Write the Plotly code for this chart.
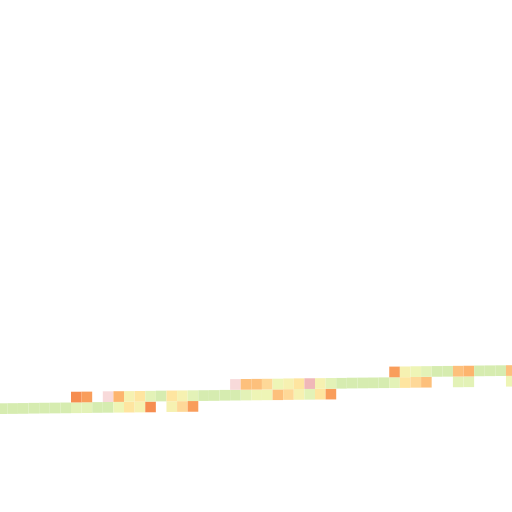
"""Drifting band of coloured cells, drawn as floating bars."""
import plotly.graph_objects as go

N = None

# column index along the band
columns = list(range(49))

# slow upward drift of each column's bottom edge (in row units)
baseline = [0.00, 0.01, 0.02, 0.04, 0.05, 0.06, 0.07, 0.08, 0.09, 0.11,
            0.12, 0.13, 0.14, 0.15, 0.16, 0.18, 0.19, 0.20, 0.21, 0.22,
            0.23, 0.25, 0.26, 0.27, 0.28, 0.29, 0.30, 0.32, 0.33, 0.34,
            0.35, 0.36, 0.37, 0.39, 0.40, 0.41, 0.42, 0.43, 0.44, 0.46,
            0.47, 0.48, 0.49, 0.50, 0.51, 0.53, 0.54, 0.55, 0.56]

# cell levels per row (None = no cell)
row0 = [9, 9, 9, 9, 9, 9, 9, 8, 8, 9, 9, 7, 5, 6, 0, N, 6, 4, 1, N,
        N, N, N, N, N, N, N, N, N, N, N, N, N, N, N, N, N, N, N, N,
        N, N, N, N, N, N, N, N, N]
row1 = [N, N, N, N, N, N, N, 0, 1, N, 10, 2, 6, 5, 8, 9, 5, 6, 8, 9,
        9, 9, 9, 8, 7, 7, 3, 4, 6, 8, 5, 1, N, N, N, N, N, N, N, N,
        N, N, N, N, N, N, N, N, N]
row2 = [N, N, N, N, N, N, N, N, N, N, N, N, N, N, N, N, N, N, N, N,
        N, N, 10, 3, 3, 4, 7, 6, 5, 11, 6, 8, 9, 9, 9, 9, 9, 8, 5, 4,
        3, N, N, 8, 8, N, N, N, 7]
row3 = [N, N, N, N, N, N, N, N, N, N, N, N, N, N, N, N, N, N, N, N,
        N, N, N, N, N, N, N, N, N, N, N, N, N, N, N, N, N, 1, 6, 7,
        8, 9, 9, 3, 2, 9, 9, 9, 3]
rows = [row0, row1, row2, row3]

palette = ["#f68d50", "#f99d5b", "#fdb46e", "#fdc07c", "#fed898", "#fee5a0",
           "#f6f1b1", "#eef5b6", "#e3f2b7", "#d6ecb0", "#f8dada", "#f0b8b8"]


fig = go.Figure()
for r, levels in enumerate(rows):
    fig.add_trace(go.Bar(
        x=columns,
        y=[1 if v is not None else None for v in levels],
        base=[b + r for b in baseline],
        width=1,
        marker=dict(color=[palette[v] if v is not None else "white" for v in levels],
                    line=dict(width=0)),
        hoverinfo="skip",
    ))

fig.update_layout(
    width=512, height=512,
    margin=dict(l=0, r=0, t=0, b=0),
    barmode="overlay",
    showlegend=False,
    paper_bgcolor="white",
    plot_bgcolor="white",
    xaxis=dict(range=[-0.19, 48.07], visible=False),
    yaxis=dict(range=[-9.16, 38.69], visible=False),
)

# the page's default body margin would push the figure off the window edge
fig.write_html("out.html", config={"displayModeBar": False},
               post_script="document.body.style.margin = '0';")
